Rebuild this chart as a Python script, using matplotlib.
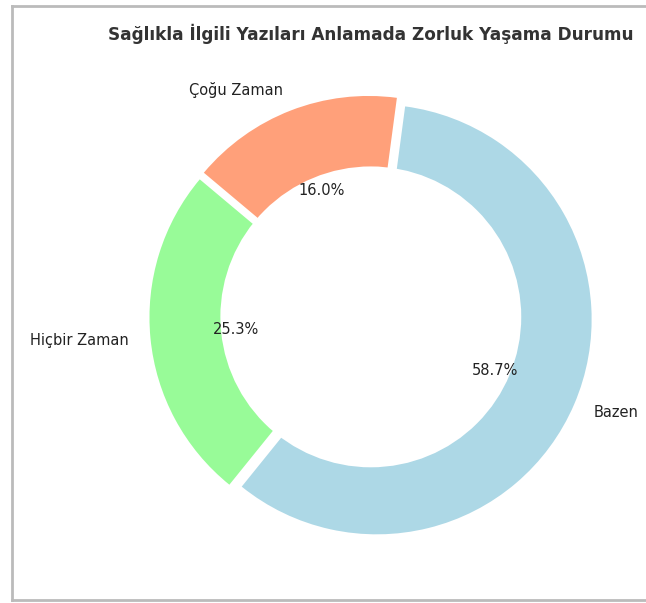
import matplotlib
matplotlib.use('Agg')
import matplotlib.pyplot as plt
from matplotlib.lines import Line2D

# Survey answers
labels = ['Hiçbir Zaman', 'Bazen', 'Çoğu Zaman']
shares = [25.3, 58.7, 16.0]
colors = ['palegreen', 'lightblue', 'lightsalmon']
title = 'Sağlıkla İlgili Yazıları Anlamada Zorluk Yaşama Durumu'


def main():
    plt.rcParams['font.family'] = ['DejaVu Sans']
    fig = plt.figure(figsize=(6.46, 6.03), dpi=100)
    ax = fig.add_axes([0.158, 0.029, 0.832, 0.891])

    ax.pie(shares, labels=labels, colors=colors, autopct='%1.1f%%',
           startangle=140, explode=[0.03] * len(shares), pctdistance=0.6,
           textprops=dict(fontsize=10.5, color='#222222'))
    # donut hole
    ax.add_artist(plt.Circle((0, 0), 0.7, fc='white'))
    ax.set_aspect('equal')
    ax.set_title(title, fontsize=12.2, weight='bold', color='#333333')

    # screenshot frame
    for xs, ys in [([0.018, 0.018], [0.005, 0.99]),
                   ([0.018, 1.0], [0.005, 0.005]),
                   ([0.018, 1.0], [0.99, 0.99])]:
        fig.add_artist(Line2D(xs, ys, transform=fig.transFigure,
                              color='#bbbbbb', linewidth=2))

    plt.savefig('out.png', dpi=100)
    plt.close()


if __name__ == "__main__":
    main()
